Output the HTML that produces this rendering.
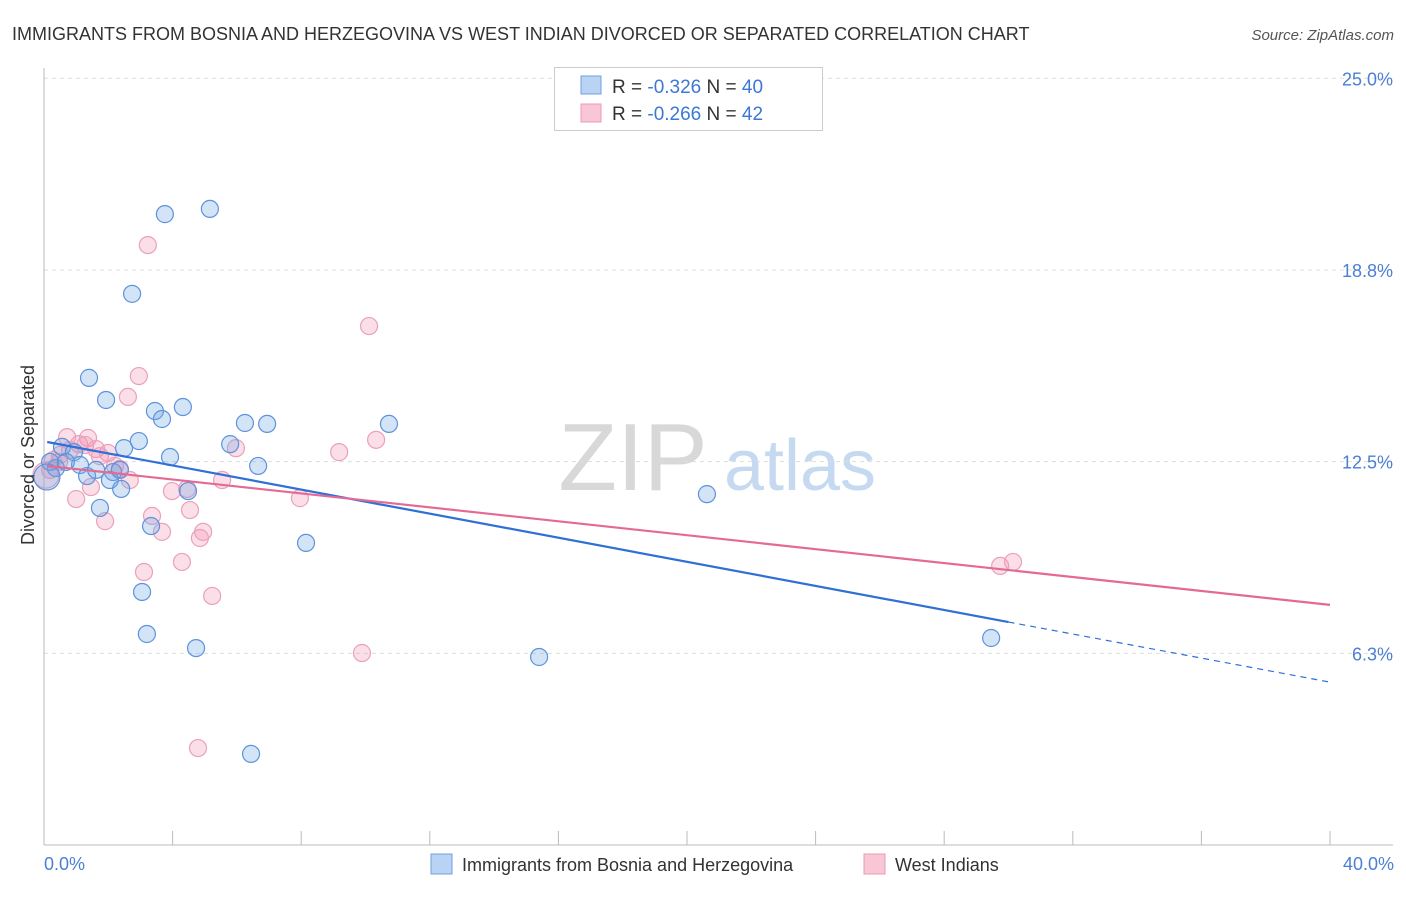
<!DOCTYPE html>
<html><head><meta charset="utf-8"><style>
body{margin:0;background:#fff;font-family:"Liberation Sans",sans-serif;}
svg text{font-family:"Liberation Sans",sans-serif;}
</style></head><body>
<svg id="c" width="1406" height="892" xmlns="http://www.w3.org/2000/svg">
<text x="12" y="40" font-size="18" fill="#333">IMMIGRANTS FROM BOSNIA AND HERZEGOVINA VS WEST INDIAN DIVORCED OR SEPARATED CORRELATION CHART</text>
<text x="1394" y="40" font-size="15" fill="#555" font-style="italic" text-anchor="end">Source: ZipAtlas.com</text>
<g>
<text x="633" y="490" font-size="96" font-family="Liberation Serif" fill="#d8d8d8" text-anchor="middle">ZIP</text>
<text x="800" y="490" font-size="72" fill="#c5daf0" text-anchor="middle">atlas</text>
</g>
<g id="grid"></g><g id="axes"></g><g id="pts"></g><g id="trend"></g>
<text transform="translate(34,455) rotate(-90)" font-size="18" fill="#333" text-anchor="middle">Divorced or Separated</text>
<text x="44" y="870" font-size="18" fill="#4a7fd4">0.0%</text>
<text x="1394" y="870" font-size="18" fill="#4a7fd4" text-anchor="end">40.0%</text>
<g>
<rect x="554.5" y="67.5" width="268" height="63" fill="#fff" stroke="#ccc"/>
<rect x="581" y="76" width="20" height="18" fill="#b9d3f5" stroke="#6f9fe0"/>
<rect x="581" y="104" width="20" height="18" fill="#f9c6d6" stroke="#ec9ab5"/>
<text x="612" y="93" font-size="19" fill="#333">R = <tspan fill="#3b78d8">-0.326</tspan>   N = <tspan fill="#3b78d8">40</tspan></text>
<text x="612" y="120" font-size="19" fill="#333">R = <tspan fill="#3b78d8">-0.266</tspan>   N = <tspan fill="#3b78d8"> 42</tspan></text>
</g>
<g>
<rect x="431" y="854" width="21" height="20" fill="#b9d3f5" stroke="#6f9fe0"/>
<text x="462" y="871" font-size="18" fill="#333">Immigrants from Bosnia and Herzegovina</text>
<rect x="864" y="854" width="21" height="20" fill="#f9c6d6" stroke="#ec9ab5"/>
<text x="895" y="871" font-size="18" fill="#333">West Indians</text>
</g>
</svg>
<script>
const yTicks=[25,18.75,12.5,6.25];
const yTickLabels=["25.0%","18.8%","12.5%","6.3%"];
const xTicks=[0,4,8,12,16,20,24,28,32,36,40];
const blueX=[3.76,5.16,2.74,1.40,1.93,3.45,4.32,3.67,6.25,6.94,10.73,2.95,2.49,5.79,3.92,6.66,0.56,0.93,1.12,0.37,0.19,1.34,1.62,2.15,2.05,2.40,4.48,1.74,3.33,8.15,3.05,3.20,4.73,6.44,15.40,20.62,29.46,0.09,0.68,2.36];
const blueY=[20.57,20.74,17.97,15.23,14.51,14.15,14.28,13.89,13.76,13.73,13.73,13.17,12.94,13.07,12.65,12.36,12.98,12.81,12.39,12.29,12.49,12.03,12.23,12.16,11.90,11.61,11.54,10.99,10.40,9.85,8.25,6.88,6.42,2.97,6.13,11.44,6.75,12.00,12.49,12.23];
const pinkX=[3.23,10.11,2.95,2.61,0.72,1.37,1.62,1.09,1.99,0.50,0.28,2.36,2.67,1.46,1.00,1.90,3.36,3.67,3.98,4.54,4.95,4.85,4.29,3.11,5.23,5.97,5.54,7.96,9.18,10.33,9.89,4.79,29.74,30.14,0.19,0.47,2.21,0.81,0.06,1.74,4.45,1.28];
const pinkY=[19.56,16.92,15.29,14.61,13.30,13.27,12.91,13.07,12.78,12.72,12.55,12.26,11.90,11.67,11.28,10.56,10.73,10.21,11.54,10.92,10.21,10.01,9.23,8.90,8.12,12.94,11.90,11.31,12.81,13.21,6.26,3.16,9.10,9.23,12.23,12.49,12.36,12.88,12.06,12.68,11.61,13.04];
const blueTrend=[13.14,7.27,5.31]; // at x=0.1, 30, 40
const blueTrendX=[0.1,30,40];
const pinkTrend=[12.36,7.83];
const pinkTrendX=[0.1,40];
const NS="http://www.w3.org/2000/svg";
const X=v=>44+v*32.15, Y=v=>845-v*30.67;
function mk(p,t,a){const e=document.createElementNS(NS,t);for(const k in a)e.setAttribute(k,a[k]);p.appendChild(e);return e;}
const grid=document.getElementById('grid'),axes=document.getElementById('axes'),pts=document.getElementById('pts'),tr=document.getElementById('trend');
yTicks.forEach((v,i)=>{
 const l=mk(grid,'line',{x1:44,x2:1393,y1:Y(v),y2:Y(v),stroke:'#ddd','stroke-dasharray':'4,4'});
 
 
 const t=mk(grid,'text',{x:1393,y:Y(v)+7,'font-size':18,fill:'#4a7fd4','text-anchor':'end'});
 t.textContent=yTickLabels[i];
 
 
});
const ax=mk(axes,'line',{x1:44,x2:44,y1:68,y2:845,stroke:'#bbb'});


const bx=mk(axes,'line',{x1:44,x2:1393,y1:845,y2:845,stroke:'#bbb'});


xTicks.forEach(v=>{
 const t=mk(axes,'line',{x1:X(v),x2:X(v),y1:831,y2:845,stroke:'#bbb'});
 
 
});
function dots(xs,ys,fill,stroke,name){
 xs.forEach((x,i)=>{
  const big=(x<0.15);
  const c=mk(pts,'circle',{cx:X(x),cy:Y(ys[i]),r:big?13:8.5,fill:fill,stroke:stroke,'stroke-width':1.2});
  
  
 });
}
dots(pinkX,pinkY,'rgba(242,150,180,0.3)','#eba0ba','west-indians-point');
dots(blueX,blueY,'rgba(110,165,230,0.3)','#5d93dc','bosnia-point');
const b1=mk(tr,'line',{x1:X(blueTrendX[0]),y1:Y(blueTrend[0]),x2:X(blueTrendX[1]),y2:Y(blueTrend[1]),stroke:'#2f6fd6','stroke-width':2.2});


const b2=mk(tr,'line',{x1:X(blueTrendX[1]),y1:Y(blueTrend[1]),x2:X(blueTrendX[2]),y2:Y(blueTrend[2]),stroke:'#2f6fd6','stroke-width':1.2,'stroke-dasharray':'6,5'});


const p1=mk(tr,'line',{x1:X(pinkTrendX[0]),y1:Y(pinkTrend[0]),x2:X(pinkTrendX[1]),y2:Y(pinkTrend[1]),stroke:'#e46a94','stroke-width':2.2});


</script>
</body></html>
